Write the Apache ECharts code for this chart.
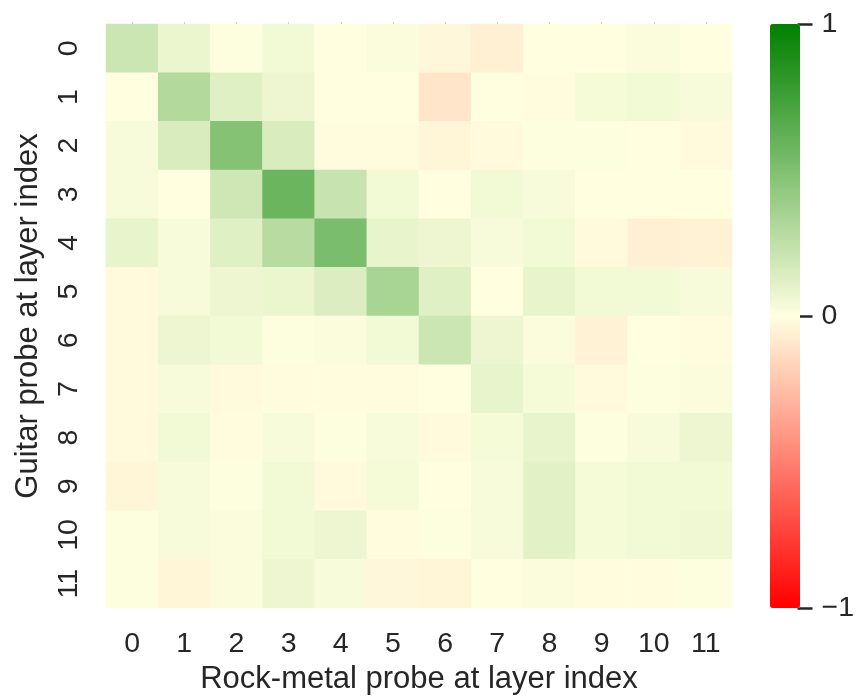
<!DOCTYPE html>
<html>
<head>
<meta charset="utf-8">
<script src="https://cdn.jsdelivr.net/npm/echarts@6/dist/echarts.min.js"></script>
<style>
html,body{margin:0;padding:0;background:#fff;}
#chart{width:857px;height:700px;}
</style>
</head>
<body>
<div id="chart"></div>
<script>
// Column categories (Rock-metal probe layer) and row categories (Guitar probe layer)
const xLabels = ['0','1','2','3','4','5','6','7','8','9','10','11'];
const yLabels = ['0','1','2','3','4','5','6','7','8','9','10','11'];
const colorbarTicks = [-1, 0, 1];

// One array per row (Guitar probe layer index), values per Rock-metal layer
const row0  = [0.20, 0.08, 0.01, 0.05, 0.00, 0.02, -0.03, -0.06, 0.00, 0.00, 0.02, 0.00];
const row1  = [0.00, 0.30, 0.12, 0.07, 0.00, 0.00, -0.10, 0.00, -0.01, 0.04, 0.05, 0.03];
const row2  = [0.03, 0.15, 0.48, 0.15, -0.01, -0.01, -0.04, -0.02, 0.01, 0.01, 0.00, -0.02];
const row3  = [0.03, 0.00, 0.19, 0.58, 0.22, 0.05, 0.00, 0.05, 0.03, 0.00, 0.00, 0.00];
const row4  = [0.09, 0.03, 0.12, 0.28, 0.52, 0.09, 0.07, 0.03, 0.05, -0.02, -0.06, -0.05];
const row5  = [-0.02, 0.03, 0.07, 0.08, 0.14, 0.34, 0.12, 0.00, 0.09, 0.05, 0.05, 0.03];
const row6  = [-0.02, 0.07, 0.05, 0.01, 0.02, 0.05, 0.20, 0.07, 0.02, -0.05, 0.00, -0.01];
const row7  = [-0.02, 0.03, -0.02, -0.01, -0.01, -0.01, 0.00, 0.09, 0.04, -0.02, 0.01, 0.02];
const row8  = [-0.02, 0.05, -0.01, 0.03, 0.01, 0.03, -0.02, 0.04, 0.09, 0.01, 0.03, 0.07];
const row9  = [-0.04, 0.03, 0.01, 0.05, -0.02, 0.04, 0.00, 0.03, 0.11, 0.04, 0.05, 0.05];
const row10 = [0.01, 0.03, 0.02, 0.05, 0.07, -0.01, 0.01, 0.03, 0.11, 0.04, 0.05, 0.06];
const row11 = [0.01, -0.04, 0.02, 0.07, 0.03, -0.03, -0.04, 0.00, 0.02, -0.01, -0.01, 0.01];

const rows = [row0,row1,row2,row3,row4,row5,row6,row7,row8,row9,row10,row11];
const data = [];
rows.forEach((r, yi) => r.forEach((v, xi) => data.push([xi, yi, v])));

const TXT = '#262626';
const FONT = '"Liberation Sans", Arial, sans-serif';

const chart = echarts.init(document.getElementById('chart'), null, {renderer: 'canvas'});
chart.setOption({
  animation: false,
  backgroundColor: '#ffffff',
  textStyle: {fontFamily: FONT, color: TXT},
  grid: [
    {left: 106, right: 125, top: 24, bottom: 92},
    {left: 770, width: 30, top: 24, bottom: 92}
  ],
  xAxis: [
    {
      type: 'category', data: xLabels, gridIndex: 0, position: 'bottom',
      axisLine: {show: false}, axisTick: {show: false}, splitLine: {show: false},
      axisLabel: {fontSize: 28.5, color: TXT, margin: 22, fontFamily: FONT},
      name: 'Rock-metal probe at layer index', nameLocation: 'middle', nameGap: 56,
      nameTextStyle: {fontSize: 31, color: TXT, fontFamily: FONT}
    },
    {
      type: 'category', data: xLabels, gridIndex: 0, position: 'top',
      axisLine: {show: false},
      axisTick: {show: true, alignWithLabel: true, length: 2, lineStyle: {color: '#c8c8c8', width: 1}},
      axisLabel: {show: false}, splitLine: {show: false}
    },
    {
      type: 'category', data: [''], gridIndex: 1, show: false
    }
  ],
  yAxis: [
    {
      type: 'category', data: yLabels, gridIndex: 0, inverse: true,
      axisLine: {show: false}, axisTick: {show: false}, splitLine: {show: false},
      axisLabel: {fontSize: 28.5, color: TXT, margin: 22, rotate: 90, fontFamily: FONT},
      name: 'Guitar probe at layer index', nameLocation: 'middle', nameGap: 62, nameRotate: 90,
      nameTextStyle: {fontSize: 31, color: TXT, fontFamily: FONT}
    },
    {
      type: 'value', gridIndex: 1, position: 'right', min: -1, max: 1, interval: 1,
      axisLine: {show: false, onZero: false},
      axisTick: {show: true, length: 15, inside: false, lineStyle: {color: TXT, width: 2.5}},
      splitLine: {show: false},
      axisLabel: {
        fontSize: 28.5, color: TXT, margin: 24, fontFamily: FONT,
        formatter: v => (colorbarTicks.indexOf(v) >= 0 ? String(v).replace('-', '\u2212') : '')
      }
    }
  ],
  visualMap: {
    type: 'continuous', min: -1, max: 1, seriesIndex: 0,
    orient: 'vertical', left: 770, top: 24, itemWidth: 30, itemHeight: 584,
    padding: 0, text: ['', ''], showLabel: false, calculable: false, hoverLink: false,
    inRange: {color: ['#ff0000', '#ffffe0', '#008000']}
  },
  series: [
    {
      type: 'heatmap', xAxisIndex: 0, yAxisIndex: 0, data: data,
      itemStyle: {borderWidth: 0},
      emphasis: {disabled: true}
    },
    {
      type: 'line', xAxisIndex: 2, yAxisIndex: 1, data: [], silent: true
    }
  ]
});
</script>
</body>
</html>
